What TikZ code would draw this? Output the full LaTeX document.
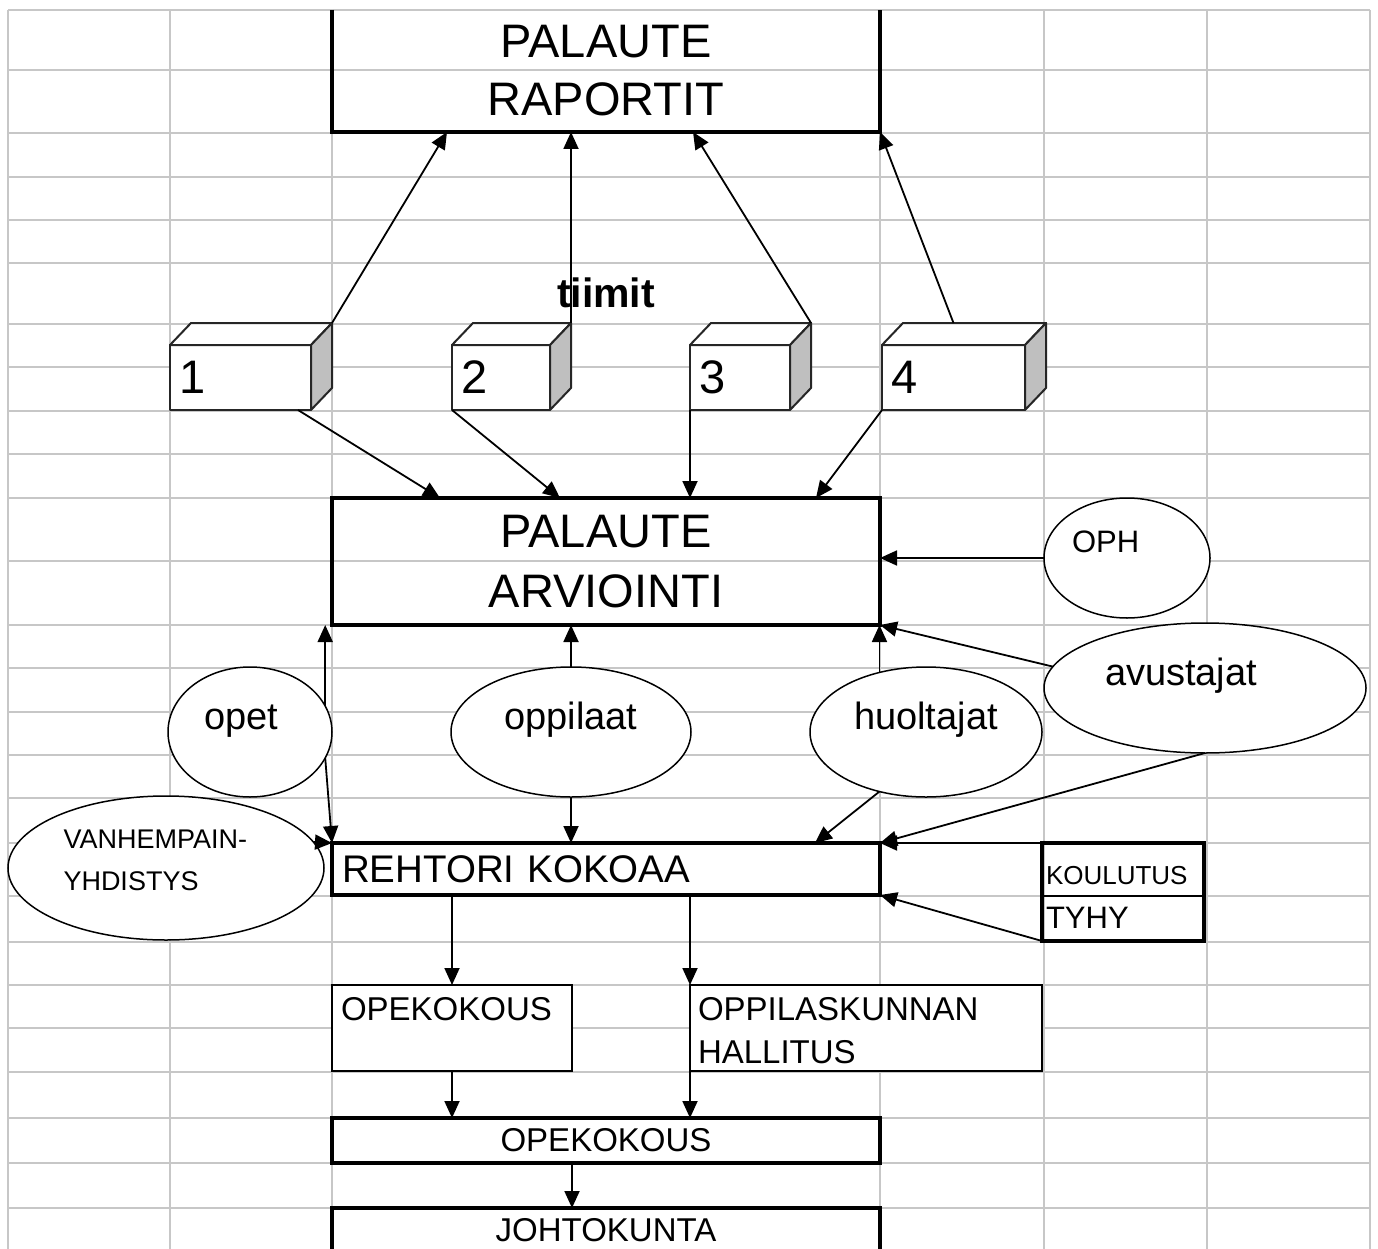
\documentclass[tikz,border=0pt]{standalone}
\usepackage{fontspec}
\setmainfont{Liberation Sans}
\usetikzlibrary{arrows.meta,calc,shapes.geometric}
\def\kuutio(#1){\draw[kuutioviiva, fill=white] (#1.north west) -- ++(21,-22) -- ([shift={(21,-22)}]#1.north east) -- (#1.north east) -- cycle; \draw[kuutioviiva, fill=black!25] (#1.north east) -- ++(21,-22) -- ([shift={(21,-22)}]#1.south east) -- (#1.south east) -- cycle; \coordinate (#1k) at ([shift={(21,-22)}]#1.north east);}
\tikzset{
	ruudukko/.style={draw=black!22, line width=1.6pt},
	solu/.style={draw, line width=4pt, inner sep=0pt, outer sep=0pt},
	laatikko/.style={draw, fill=white, line width=1.8pt, inner sep=0pt, outer sep=0pt},
	soikio/.style={ellipse, draw, fill=white, line width=1.5pt, inner sep=0pt, outer sep=0pt, text height=16pt, text depth=22pt, font=\fontsize{38}{44}\selectfont},
	kuutioviiva/.style={draw=black!85, line width=2pt, line join=round},
	kuutiosivu/.style={kuutioviiva, fill=white, inner xsep=9pt, inner ysep=0pt, outer sep=0pt, minimum height=65pt, text height=35pt, text depth=4pt, align=left, font=\fontsize{47}{56}\selectfont},
	nuoli/.style={-{Triangle[length=17pt,width=15pt]}, line width=1.8pt},
}
\begin{document}
\begin{tikzpicture}[x=1pt, y=-1pt]
				\useasboundingbox (0,0) rectangle (1378,1249);
				\fill[white] (0,0) rectangle (1378,1249);
				\foreach \gx in {8,170,332,880,1044,1207,1370}
					\draw[ruudukko] (\gx,10) -- (\gx,1249);
				\foreach \gy in {10,70,133,177,220,263,324,367,411,454,498,561,625,668,712,755,798,843,896,942,985,1028,1072,1118,1163,1208}
					\draw[ruudukko] (8,\gy) -- (1370,\gy);
				
				\node[inner sep=0pt, outer sep=0pt, minimum width=548pt, minimum height=122pt, align=center, font=\fontsize{47}{58}\selectfont] (raportit) at (606,71) {PALAUTE\\RAPORTIT};
				\draw[line width=4pt] (raportit.north west) -- (raportit.south west) -- (raportit.south east) -- (raportit.north east);
				
				\node[font=\fontsize{41}{48}\selectfont\bfseries, inner sep=0pt] (tiimit) at (606,293) {tiimit};
				\node[kuutiosivu, text width=123pt] (tiimi1) at (240.5,377.5) {1};
				\node[kuutiosivu, text width=80pt] (tiimi2) at (501,377.5) {2};
				\node[kuutiosivu, text width=82pt] (tiimi3) at (740,377.5) {3};
				\node[kuutiosivu, text width=125pt] (tiimi4) at (953.5,377.5) {4};
				\kuutio(tiimi1)
				\kuutio(tiimi2)
				\kuutio(tiimi3)
				\kuutio(tiimi4)
				
				\node[solu, minimum width=548pt, minimum height=127pt, align=center, font=\fontsize{47}{60}\selectfont] (arvio) at (606,561.5) {PALAUTE\\ARVIOINTI};
				\node[soikio, minimum width=166pt, minimum height=120pt, text width=110pt, align=left, text depth=28pt, font=\fontsize{31}{36}\selectfont] (oph) at (1127,558) {OPH};
				\node[soikio, minimum width=322pt, minimum height=130pt, text width=200pt, align=left] (avust) at (1205,688) {avustajat};
				\node[soikio, minimum width=164pt, minimum height=130pt, text width=92pt, align=left] (opet) at (250,732) {opet};
				\node[soikio, minimum width=240pt, minimum height=130pt] (oppil) at (571,732) {oppilaat};
				\node[soikio, minimum width=232pt, minimum height=130pt] (huolt) at (926,732) {huoltajat};
				\node[soikio, minimum width=316pt, minimum height=144pt, text width=205pt, align=left, text height=20pt, text depth=60pt, font=\fontsize{27}{42}\selectfont] (vanh) at (166,868) {VANHEMPAIN-\\YHDISTYS};
				
				\node[solu, inner xsep=10pt, text width=528pt, minimum height=52pt, align=left, font=\fontsize{38.5}{44}\selectfont] (rehtori) at (606,869) {REHTORI KOKOAA};
				\node[inner xsep=4pt, inner ysep=0pt, outer sep=0pt, text width=154pt, minimum height=53pt, align=left, text height=34pt, text depth=4pt, font=\fontsize{26}{30}\selectfont] (koulutus) at (1123,869.5) {KOULUTUS};
				\node[inner xsep=4pt, inner ysep=0pt, outer sep=0pt, text width=154pt, minimum height=45pt, align=left, text height=23pt, text depth=4pt, font=\fontsize{31}{36}\selectfont] (tyhy) at (1123,918.5) {TYHY};
				\draw[line width=4pt] (koulutus.north west) rectangle (tyhy.south east);
				\draw[line width=1.8pt] (koulutus.south west) -- (koulutus.south east);
				
				\node[laatikko, inner xsep=9pt, text width=222pt, minimum height=86pt, align=left, text height=24pt, text depth=40pt, font=\fontsize{33}{43}\selectfont] (opeko1) at (452,1028) {OPEKOKOUS};
				\node[laatikko, inner xsep=8pt, text width=336pt, minimum height=86pt, align=left, text height=24pt, text depth=40pt, font=\fontsize{33}{43}\selectfont] (oppilask) at (866,1028) {OPPILASKUNNAN\\HALLITUS};
				\node[solu, minimum width=548pt, minimum height=45pt, font=\fontsize{33}{40}\selectfont] (opeko2) at (606,1140.5) {OPEKOKOUS};
				\node[solu, minimum width=548pt, minimum height=44pt, font=\fontsize{33}{40}\selectfont] (johto) at (606,1230) {JOHTOKUNTA};
				
				\draw[nuoli] (tiimi1k) -- ([xshift=115pt]raportit.south west);
				\draw[nuoli] (tiimi2k) -- (tiimi2k |- raportit.south);
				\draw[nuoli] (tiimi3k) -- ([xshift=-187pt]raportit.south east);
				\draw[nuoli] ([shift={(0,-22)}]tiimi4.north) -- (raportit.south east);
				\draw[nuoli] ([xshift=-13pt]tiimi1.south east) -- ([xshift=108pt]arvio.north west);
				\draw[nuoli] (tiimi2.south west) -- ([xshift=228pt]arvio.north west);
				\draw[nuoli] (tiimi3.south west) -- (tiimi3.south west |- arvio.north);
				\draw[nuoli] (tiimi4.south west) -- ([xshift=-64pt]arvio.north east);
				
				\draw[nuoli] (oph.west) -- (oph.west -| arvio.east);
				\draw[nuoli] (avust.172) -- (arvio.south east);
				\draw[nuoli] (huolt.128) -- (huolt.128 |- arvio.south);
				\draw[nuoli] (oppil.north) -- (oppil.north |- arvio.south);
				\draw[nuoli] (opet.19) -- (opet.19 |- arvio.south);
				
				\draw[nuoli] (opet.-19) -- (rehtori.north west);
				\draw[nuoli] (vanh.10) -- (rehtori.north west);
				\draw[nuoli] (oppil.south) -- (oppil.south |- rehtori.north);
				\draw[nuoli] (huolt.-128) -- ([xshift=-65pt]rehtori.north east);
				\draw[nuoli] (avust.south) -- (rehtori.north east);
				\draw[nuoli] (koulutus.north west) -- (rehtori.north east);
				\draw[nuoli] (tyhy.south west) -- (rehtori.south east);
				
				\draw[nuoli] (opeko1.north |- rehtori.south) -- (opeko1.north);
				\draw[nuoli] (oppilask.north west |- rehtori.south) -- (oppilask.north west);
				\draw[nuoli] (opeko1.south) -- (opeko1.south |- opeko2.north);
				\draw[nuoli] (oppilask.south west) -- (oppilask.south west |- opeko2.north);
				\draw[nuoli] ([xshift=-34pt]opeko2.south) -- ([xshift=-34pt]johto.north);
			\end{tikzpicture}
\end{document}
